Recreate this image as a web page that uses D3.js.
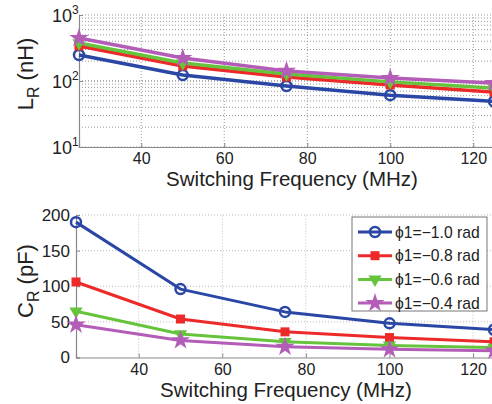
<!DOCTYPE html>
<html>
<head>
<meta charset="utf-8">
<script src="https://cdn.jsdelivr.net/npm/d3@7"></script>
<style>
  body { margin: 0; background: #fff; }
  svg { font-family: "Liberation Sans", Arial, sans-serif; }
</style>
</head>
<body>
<div id="chart"></div>
<script>
var width = 492, height = 404;

// data
var freqs = [25, 50, 75, 100, 125];
var seriesNames = ["\u03d51=\u22121.0 rad", "\u03d51=\u22120.8 rad", "\u03d51=\u22120.6 rad", "\u03d51=\u22120.4 rad"];
var colors = ["#2a47a5", "#ec2a2a", "#66c43c", "#b35cb8"];
var markers = ["circle", "square", "triangle", "star"];
var lrValues = [
  [248, 123, 84, 61, 49],
  [339, 169, 115, 87, 68],
  [376, 187, 128, 97, 78],
  [448, 223, 142, 111, 93]
];
var crValues = [
  [190, 96, 64, 48, 39],
  [106, 54, 36, 28, 22],
  [65, 33, 22, 17, 14],
  [46, 24, 15, 11.5, 9.6]
];
var xTicks = [40, 60, 80, 100, 120];
var lrTicks = [10, 100, 1000];
var crTicks = [0, 50, 100, 150, 200];
var xTitle = "Switching Frequency (MHz)";

var svg = d3.select("#chart").append("svg")
  .attr("width", width)
  .attr("height", height);

function marker(g, type, color, x, y) {
  if (type == "circle") {
    g.append("circle").attr("cx", x).attr("cy", y).attr("r", 5)
      .attr("fill", "none").attr("stroke", color).attr("stroke-width", 2.5);
  } else if (type == "square") {
    g.append("rect").attr("x", x - 4.5).attr("y", y - 4.5).attr("width", 9).attr("height", 9)
      .attr("fill", color);
  } else if (type == "triangle") {
    g.append("path").attr("d", d3.symbol().type(d3.symbolTriangle).size(75)())
      .attr("transform", "translate(" + x + "," + y + ") rotate(180)")
      .attr("fill", color);
  } else {
    g.append("path").attr("d", d3.symbol().type(d3.symbolStar).size(115)())
      .attr("transform", "translate(" + x + "," + y + ")")
      .attr("fill", color);
  }
}

function drawSeries(g, x, y, values, lw) {
  var line = d3.line()
    .x(function(d, i) { return x(freqs[i]); })
    .y(function(d) { return y(d); });
  values.forEach(function(vals, s) {
    g.append("path")
      .datum(vals)
      .attr("fill", "none")
      .attr("stroke", colors[s])
      .attr("stroke-width", lw)
      .attr("stroke-linejoin", "round")
      .attr("d", line);
    vals.forEach(function(v, i) {
      marker(g, markers[s], colors[s], x(freqs[i]), y(v));
    });
  });
}

function xAxis(g, x, y0) {
  var ax = g.append("g")
    .attr("transform", "translate(0," + y0 + ")")
    .call(d3.axisBottom(x).tickValues(xTicks).tickSize(-4).tickPadding(6));
  ax.select(".domain").attr("stroke", "#888").attr("stroke-width", 1.2);
  ax.selectAll(".tick line").attr("stroke", "#888");
  ax.selectAll("text").attr("font-size", 16).attr("fill", "#222").attr("font-family", null);
}

// ---------- top plot: L_R (log) ----------
var xTop = d3.scaleLinear().domain([25, 125]).range([79, 494]);
var yTop = d3.scaleLog().domain([10, 1000]).range([147, 15]);
var gTop = svg.append("g");

// minor log grid
var gridVals = [];
[10, 100].forEach(function(dec) {
  for (var k = 1; k <= 10; k++) gridVals.push(dec * k);
});
gTop.selectAll(".hgrid").data(gridVals).enter().append("line")
  .attr("x1", xTop(25)).attr("x2", xTop(125))
  .attr("y1", function(d) { return yTop(d); })
  .attr("y2", function(d) { return yTop(d); })
  .attr("stroke", "#999").attr("stroke-width", 1)
  .attr("stroke-dasharray", "1,2");
gTop.selectAll(".vgrid").data(xTicks).enter().append("line")
  .attr("x1", function(d) { return xTop(d); })
  .attr("x2", function(d) { return xTop(d); })
  .attr("y1", yTop(10)).attr("y2", yTop(1000))
  .attr("stroke", "#999").attr("stroke-width", 1)
  .attr("stroke-dasharray", "1,2");

xAxis(gTop, xTop, yTop(10));

var yAxTop = gTop.append("g")
  .attr("transform", "translate(" + xTop(25) + ",0)")
  .call(d3.axisLeft(yTop).tickValues(lrTicks).tickSize(-4).tickFormat(""));
yAxTop.select(".domain").attr("stroke", "#888").attr("stroke-width", 1.2);
yAxTop.selectAll(".tick line").attr("stroke", "#888");

lrTicks.forEach(function(t) {
  var txt = gTop.append("text")
    .attr("x", 52)
    .attr("y", yTop(t) + 7)
    .attr("font-size", 18)
    .attr("fill", "#222");
  txt.append("tspan").text("10");
  txt.append("tspan").attr("dy", -8).attr("font-size", 12).text(Math.round(Math.log10(t)));
});

drawSeries(gTop, xTop, yTop, lrValues, 3.5);

var lrLabel = gTop.append("text")
  .attr("transform", "translate(33," + 74 + ") rotate(-90)")
  .attr("text-anchor", "middle")
  .attr("font-size", 22)
  .attr("fill", "#222");
lrLabel.append("tspan").text("L");
lrLabel.append("tspan").attr("dy", 6).attr("font-size", 16).text("R");
lrLabel.append("tspan").attr("dy", -6).text(" (nH)");

gTop.append("text")
  .attr("x", 292).attr("y", 186)
  .attr("text-anchor", "middle")
  .attr("font-size", 20.5)
  .attr("fill", "#222")
  .text(xTitle);

// ---------- bottom plot: C_R ----------
var xBot = d3.scaleLinear().domain([25, 125]).range([76, 494]);
var yBot = d3.scaleLinear().domain([0, 200]).range([357.5, 215]);
var gBot = svg.append("g");

gBot.selectAll(".hgrid").data(crTicks.slice(1)).enter().append("line")
  .attr("x1", xBot(25)).attr("x2", xBot(125))
  .attr("y1", function(d) { return yBot(d); })
  .attr("y2", function(d) { return yBot(d); })
  .attr("stroke", "#bbb").attr("stroke-width", 1)
  .attr("stroke-dasharray", "1,2");
gBot.selectAll(".vgrid").data(xTicks).enter().append("line")
  .attr("x1", function(d) { return xBot(d); })
  .attr("x2", function(d) { return xBot(d); })
  .attr("y1", yBot(0)).attr("y2", yBot(200))
  .attr("stroke", "#bbb").attr("stroke-width", 1)
  .attr("stroke-dasharray", "1,2");

xAxis(gBot, xBot, yBot(0));

var yAxBot = gBot.append("g")
  .attr("transform", "translate(" + xBot(25) + ",0)")
  .call(d3.axisLeft(yBot).tickValues(crTicks).tickSize(-4).tickPadding(6));
yAxBot.select(".domain").attr("stroke", "#888").attr("stroke-width", 1.2);
yAxBot.selectAll(".tick line").attr("stroke", "#888");
yAxBot.selectAll("text").attr("font-size", 17).attr("fill", "#222").attr("font-family", null);

drawSeries(gBot, xBot, yBot, crValues, 3);

var crLabel = gBot.append("text")
  .attr("transform", "translate(33," + 281 + ") rotate(-90)")
  .attr("text-anchor", "middle")
  .attr("font-size", 22)
  .attr("fill", "#222");
crLabel.append("tspan").text("C");
crLabel.append("tspan").attr("dy", 6).attr("font-size", 16).text("R");
crLabel.append("tspan").attr("dy", -6).text(" (pF)");

gBot.append("text")
  .attr("x", 286).attr("y", 397)
  .attr("text-anchor", "middle")
  .attr("font-size", 20.5)
  .attr("fill", "#222")
  .text(xTitle);

// legend
var legend = gBot.append("g");
legend.append("rect")
  .attr("x", 352).attr("y", 217).attr("width", 135).attr("height", 94)
  .attr("fill", "#fff").attr("stroke", "#777").attr("stroke-width", 1);
seriesNames.forEach(function(name, i) {
  var ly = 232 + i * 23.7;
  legend.append("line")
    .attr("x1", 358).attr("x2", 392).attr("y1", ly).attr("y2", ly)
    .attr("stroke", colors[i]).attr("stroke-width", 3);
  marker(legend, markers[i], colors[i], 375, ly);
  legend.append("text")
    .attr("x", 395).attr("y", ly + 5.5)
    .attr("font-size", 15.7)
    .attr("fill", "#222")
    .text(name);
});
</script>
</body>
</html>
